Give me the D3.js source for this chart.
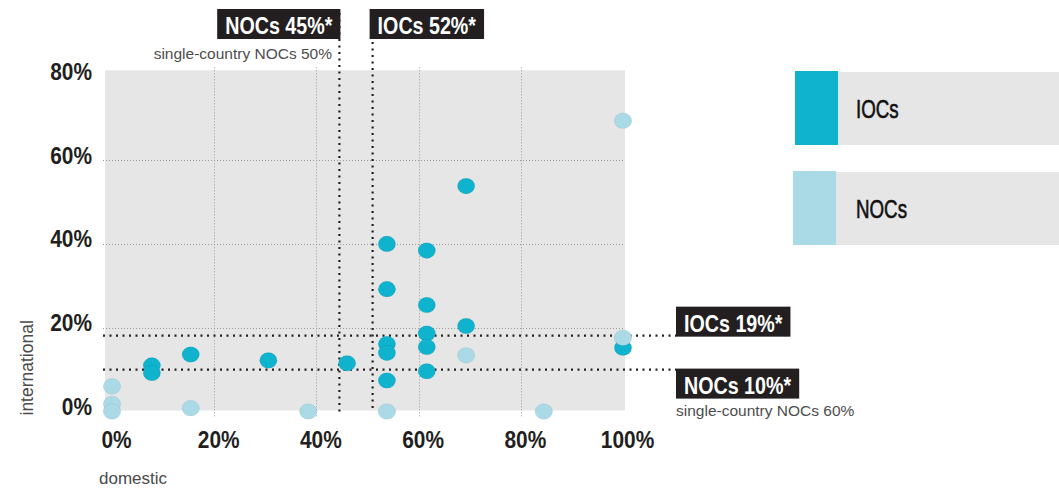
<!DOCTYPE html>
<html>
<head>
<meta charset="utf-8">
<script src="https://cdn.jsdelivr.net/npm/d3@7"></script>
<style>
  html, body { margin: 0; padding: 0; background: #fff; }
  svg { display: block; }
  .cond { font-family: "Liberation Sans", Arial, sans-serif; }
  .light { font-family: "Liberation Sans", Arial, sans-serif; font-weight: 300; }
</style>
</head>
<body>
<svg id="chart" width="1059" height="491"></svg>
<script>
// ---- data ----
const xTicks = [0, 20, 40, 60, 80, 100];
const yTicks = [0, 20, 40, 60, 80];
const gridX = [20, 40, 60, 80];
const gridY = [20, 40, 60];

const seriesNames = ["IOCs", "NOCs"];
const seriesColors = ["#0fb3ce", "#a9dae6"];

const iocDomestic      = [7.8, 7.8, 15.4, 30.6, 46.0, 53.8, 53.8, 53.8, 53.8, 53.8, 61.6, 61.6, 61.6, 61.6, 61.6, 69.3, 69.3, 100];
const iocInternational = [11.0, 9.2, 13.6, 12.2, 11.5, 40.0, 29.2, 16.1, 14.0, 7.4, 38.4, 25.4, 18.6, 15.4, 9.6, 20.4, 53.8, 15.2];

const nocDomestic      = [0, 0, 0, 15.4, 38.4, 53.8, 69.3, 84.5, 100, 100];
const nocInternational = [6.0, 1.8, 0, 0.8, 0, 0, 13.4, 0, 69.4, 17.6];

const vThresholdLabels = ["NOCs 45%*", "IOCs 52%*"];
const vThresholdValues = [44.5, 51];
const hThresholdLabels = ["IOCs 19%*", "NOCs 10%*"];
const hThresholdValues = [18.1, 10];
const noteTop = "single-country NOCs 50%";
const noteRight = "single-country NOCs 60%";

const xTitle = "domestic";
const yTitle = "international";

// ---- drawing ----
const svg = d3.select("#chart");
const x = d3.scaleLinear().domain([0, 100]).range([112, 623]);
const y = d3.scaleLinear().domain([0, 80]).range([411.5, 76.3]);

const TICK_SCALE = 0.87, BOX_SCALE = 0.82, LEG_SCALE = 0.75;

// plot background
svg.append("rect")
  .attr("x", x(0) - 7).attr("y", y(80) - 6)
  .attr("width", x(100) + 2 - (x(0) - 7))
  .attr("height", y(0) - 1 - (y(80) - 6))
  .attr("fill", "#e6e6e6");

// grid
const grid = svg.append("g").attr("stroke", "#9a9a9a").attr("stroke-width", 1).attr("stroke-dasharray", "1,2");
grid.selectAll("line.gx").data(gridX).join("line")
  .attr("x1", d => Math.round(x(d)) + 0.5).attr("x2", d => Math.round(x(d)) + 0.5)
  .attr("y1", y(80) - 9).attr("y2", y(0) + 6);
grid.selectAll("line.gy").data(gridY).join("line")
  .attr("x1", x(0) - 9).attr("x2", x(100) + 2)
  .attr("y1", d => Math.round(y(d)) + 0.5).attr("y2", d => Math.round(y(d)) + 0.5);

// axes (labels only, via d3 axis)
const xAxis = d3.axisBottom(x).tickValues(xTicks).tickFormat(d => d + "%").tickSize(0);
const gx = svg.append("g").attr("transform", `translate(4, ${y(0) + 36})`).call(xAxis);
gx.select(".domain").remove();
gx.selectAll("text").attr("class", "cond").attr("dy", 0).attr("x", 0).attr("y", 0)
  .attr("transform", `scale(${TICK_SCALE},1)`)
  .style("font-size", "24px").style("font-weight", "bold").attr("fill", "#231f20");

const yAxis = d3.axisLeft(y).tickValues(yTicks).tickFormat(d => d + "%").tickSize(0);
const gy = svg.append("g").attr("transform", `translate(92, 0)`).call(yAxis);
gy.select(".domain").remove();
gy.selectAll("text").attr("class", "cond").attr("x", 0).attr("dy", 3)
  .attr("transform", `scale(${TICK_SCALE},1)`)
  .style("font-size", "24px").style("font-weight", "bold").attr("fill", "#231f20");

// axis titles
svg.append("text").attr("class", "light")
  .attr("x", 99).attr("y", 484)
  .style("font-size", "17px").attr("fill", "#4a4a4a").text(xTitle);
svg.append("text").attr("class", "light")
  .attr("transform", `translate(33, ${y(0) + 4}) rotate(-90)`)
  .style("font-size", "17.5px").attr("fill", "#4a4a4a").text(yTitle);

// threshold lines
const thr = svg.append("g").attr("stroke", "#231f20").attr("stroke-width", 2.2).attr("stroke-dasharray", "2,4.5");
thr.selectAll("line.v").data(vThresholdValues).join("line")
  .attr("x1", d => x(d)).attr("x2", d => x(d))
  .attr("y1", (d, i) => i === 0 ? 13 : 42).attr("y2", y(0) + 1);
thr.selectAll("line.h").data(hThresholdValues).join("line")
  .attr("x1", x(0) - 9).attr("x2", 676)
  .attr("y1", d => y(d)).attr("y2", d => y(d));

// points
const ioc = iocDomestic.map((d, i) => ({ x: d, y: iocInternational[i] }));
const noc = nocDomestic.map((d, i) => ({ x: d, y: nocInternational[i] }));
[ioc, noc].forEach((pts, k) => {
  svg.append("g").selectAll("ellipse").data(pts).join("ellipse")
    .attr("cx", d => x(d.x)).attr("cy", d => y(d.y))
    .attr("rx", 8.7).attr("ry", 7.8)
    .attr("fill", seriesColors[k])
    .attr("stroke", "rgba(0,0,0,0.06)").attr("stroke-width", 1);
});

// label boxes
function labelBox(text, anchorX, topY, alignRight) {
  const g = svg.append("g");
  const t = g.append("text").attr("class", "cond")
    .style("font-size", "24px").style("font-weight", "bold").attr("fill", "#fff").text(text);
  const tw = t.node().getComputedTextLength() * BOX_SCALE;
  const w = tw + 16;
  const left = alignRight ? anchorX - w : anchorX;
  g.insert("rect", "text").attr("x", left).attr("y", topY).attr("width", w).attr("height", 30).attr("fill", "#231f20");
  t.attr("transform", `translate(${left + 8}, ${topY + 25}) scale(${BOX_SCALE},1)`);
}
labelBox(vThresholdLabels[0], x(vThresholdValues[0]) + 1, 9, true);
labelBox(vThresholdLabels[1], x(vThresholdValues[1]) - 3, 9, false);
labelBox(hThresholdLabels[0], 676, y(hThresholdValues[0]) - 29, false);
labelBox(hThresholdLabels[1], 676, y(hThresholdValues[1]) - 1, false);

svg.append("text").attr("class", "light").attr("text-anchor", "end")
  .attr("x", 332).attr("y", 59).style("font-size", "15.5px").attr("fill", "#4d4d4d").text(noteTop);
svg.append("text").attr("class", "light")
  .attr("x", 676).attr("y", 416).style("font-size", "15.5px").attr("fill", "#4d4d4d").text(noteRight);

// legend
const legTop = [71, 171];
const legSwatchX = [795, 793];
seriesNames.forEach((name, i) => {
  svg.append("rect").attr("x", legSwatchX[i] + 43).attr("y", legTop[i] + 1)
    .attr("width", 1059 - legSwatchX[i] - 43).attr("height", 73).attr("fill", "#e6e6e6");
  svg.append("rect").attr("x", legSwatchX[i]).attr("y", legTop[i])
    .attr("width", 43).attr("height", 74).attr("fill", seriesColors[i]);
  svg.append("text").attr("class", "cond")
    .attr("transform", `translate(856, ${legTop[i] + 47}) scale(${LEG_SCALE},1)`)
    .style("font-size", "25px").attr("fill", "#111")
    .attr("stroke", "#111").attr("stroke-width", 0.6).text(name);
});
</script>
</body>
</html>
